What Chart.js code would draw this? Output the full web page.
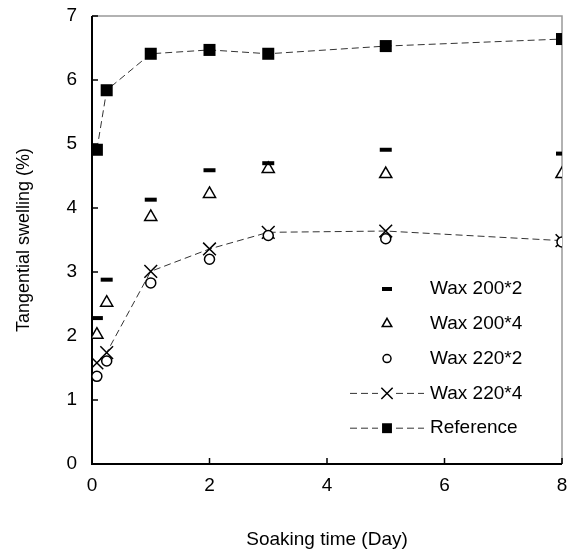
<!DOCTYPE html>
<html>
<head>
<meta charset="utf-8">
<script src="https://cdn.jsdelivr.net/npm/chart.js@4/dist/chart.umd.min.js"></script>
<style>
  html, body { margin: 0; padding: 0; background: #fff; }
  #wrap { width: 569px; height: 556px; }
</style>
</head>
<body>
<div id="wrap"><canvas id="swellChart" width="569" height="556"></canvas></div>
<script>
// soaking time in days
var days = [0.083, 0.25, 1, 2, 3, 5, 8];

var wax200x2 = [2.28, 2.88, 4.13, 4.59, 4.70, 4.91, 4.85];
var wax200x4 = [2.02, 2.52, 3.86, 4.22, 4.61, 4.53, 4.53];
var wax220x2 = [1.37, 1.61, 2.83, 3.20, 3.57, 3.52, 3.47];
var wax220x4 = [1.58, 1.74, 3.01, 3.36, 3.62, 3.64, 3.49];
var reference = [4.91, 5.84, 6.41, 6.47, 6.41, 6.53, 6.64];

var seriesNames = ['Wax 200*2', 'Wax 200*4', 'Wax 220*2', 'Wax 220*4', 'Reference'];

function toPoints(vals) {
    return days.map(function (d, i) { return { x: d, y: vals[i] }; });
}

var fontName = "'Liberation Sans', Arial, sans-serif";

var datasets = [
    {
        label: seriesNames[0], data: toPoints(wax200x2), showLine: false,
        pointStyle: 'line', pointRadius: 6, borderWidth: 4,
        borderColor: '#000', backgroundColor: '#000'
    },
    {
        label: seriesNames[1], data: toPoints(wax200x4), showLine: false,
        pointStyle: 'triangle', pointRadius: 7, borderWidth: 1.5,
        borderColor: '#000', backgroundColor: '#fff'
    },
    {
        label: seriesNames[2], data: toPoints(wax220x2), showLine: false,
        pointStyle: 'circle', pointRadius: 5, borderWidth: 1.5,
        borderColor: '#000', backgroundColor: '#fff'
    },
    {
        label: seriesNames[3], data: toPoints(wax220x4), showLine: true,
        pointStyle: 'crossRot', pointRadius: 9, borderWidth: 1, pointBorderWidth: 1.5,
        borderColor: '#333', pointBorderColor: '#000', backgroundColor: '#000',
        borderDash: [7, 4], tension: 0
    },
    {
        label: seriesNames[4], data: toPoints(reference), showLine: true,
        pointStyle: 'rect', pointRadius: 8.5, borderWidth: 1, pointBorderWidth: 0,
        borderColor: '#333', pointBorderColor: '#000', backgroundColor: '#000',
        borderDash: [7, 4], tension: 0
    }
];

// frame and inward ticks
var framePlugin = {
    id: 'framePlugin',
    beforeDatasetsDraw: function (chart) {
        var ctx = chart.ctx;
        var a = chart.chartArea;
        var xs = chart.scales.x, ys = chart.scales.y;
        ctx.save();
        ctx.strokeStyle = '#999';
        ctx.lineWidth = 1.5;
        ctx.beginPath();
        ctx.moveTo(a.left, a.top);
        ctx.lineTo(a.right, a.top);
        ctx.lineTo(a.right, a.bottom);
        ctx.stroke();

        ctx.strokeStyle = '#000';
        ctx.lineWidth = 1.5;
        xs.ticks.forEach(function (t) {
            var px = xs.getPixelForValue(t.value);
            ctx.beginPath();
            ctx.moveTo(px, a.bottom);
            ctx.lineTo(px, a.bottom - 6);
            ctx.stroke();
        });
        ys.ticks.forEach(function (t) {
            var py = ys.getPixelForValue(t.value);
            ctx.beginPath();
            ctx.moveTo(a.left, py);
            ctx.lineTo(a.left + 6, py);
            ctx.stroke();
        });
        ctx.lineWidth = 2;
        ctx.beginPath();
        ctx.moveTo(a.left, a.top);
        ctx.lineTo(a.left, a.bottom);
        ctx.lineTo(a.right, a.bottom);
        ctx.stroke();
        ctx.restore();
    }
};

// legend inside the plot, bottom right
var legendPlugin = {
    id: 'legendPlugin',
    afterDraw: function (chart) {
        var ctx = chart.ctx;
        var startY = 289, rowGap = 34.8, markX = 387, textX = 430;
        ctx.save();
        chart.data.datasets.forEach(function (ds, i) {
            var y = startY + i * rowGap;
            if (ds.showLine) {
                ctx.strokeStyle = '#333';
                ctx.lineWidth = 1;
                ctx.setLineDash(ds.borderDash);
                ctx.beginPath();
                ctx.moveTo(markX - 37, y);
                ctx.lineTo(markX - 9, y);
                ctx.moveTo(markX + 9, y);
                ctx.lineTo(markX + 37, y);
                ctx.stroke();
                ctx.setLineDash([]);
            }
            var opts = { pointStyle: ds.pointStyle, rotation: 0, borderWidth: 1.5 };
            if (ds.pointStyle === 'line') { opts.radius = 5; opts.borderWidth = 4; }
            else if (ds.pointStyle === 'triangle') { opts.radius = 5.5; }
            else if (ds.pointStyle === 'circle') { opts.radius = 4; }
            else if (ds.pointStyle === 'crossRot') { opts.radius = 8; }
            else { opts.radius = 7; opts.borderWidth = 0; }
            ctx.fillStyle = ds.backgroundColor;
            ctx.strokeStyle = '#000';
            ctx.lineWidth = opts.borderWidth;
            Chart.helpers.drawPoint(ctx, opts, markX, y);
            ctx.fillStyle = '#000';
            ctx.font = '19px ' + fontName;
            ctx.textAlign = 'left';
            ctx.textBaseline = 'middle';
            ctx.fillText(ds.label, textX, y);
        });
        ctx.restore();
    }
};

new Chart(document.getElementById('swellChart').getContext('2d'), {
    type: 'scatter',
    data: { datasets: datasets },
    options: {
        responsive: false,
        animation: false,
        layout: { autoPadding: false, padding: { top: 16, right: 7, left: 0, bottom: 0 } },
        plugins: {
            legend: { display: false },
            tooltip: { enabled: false }
        },
        scales: {
            x: {
                type: 'linear', min: 0, max: 8,
                ticks: { stepSize: 2, color: '#000', padding: 10, font: { family: fontName, size: 19 } },
                grid: { display: false, drawTicks: false },
                border: { display: false },
                title: { display: true, text: 'Soaking time (Day)', color: '#000',
                         font: { family: fontName, size: 19 }, padding: { top: 5, bottom: 5 } },
                afterFit: function (s) { s.height = 92; s.paddingLeft = 0; s.paddingRight = 0; }
            },
            y: {
                type: 'linear', min: 0, max: 7,
                ticks: { stepSize: 1, color: '#000', padding: 15, font: { family: fontName, size: 19 } },
                grid: { display: false, drawTicks: false },
                border: { display: false },
                title: { display: true, text: 'Tangential swelling (%)', color: '#000',
                         font: { family: fontName, size: 18 }, padding: { top: 13, bottom: 13 } },
                afterFit: function (s) { s.width = 92; s.paddingTop = 0; s.paddingBottom = 0; }
            }
        }
    },
    plugins: [framePlugin, legendPlugin]
});
</script>
</body>
</html>
